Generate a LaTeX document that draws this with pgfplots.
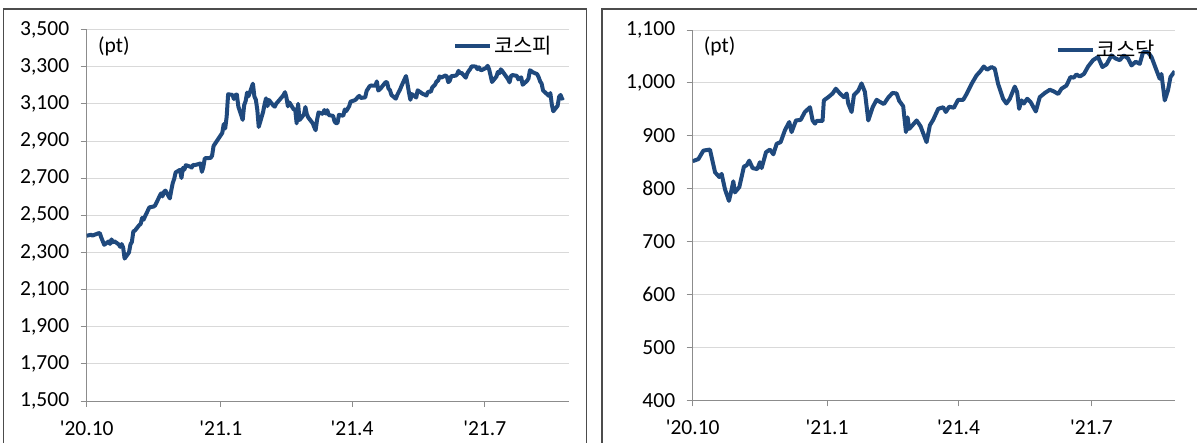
\documentclass[border=0pt]{standalone}
\usepackage{pgfplots}
\pgfplotsset{compat=1.18}
\usepackage{fontspec}
\setmainfont{Carlito}
\newfontfamily\cjk{Noto Sans CJK KR}
\definecolor{kline}{RGB}{31,73,125}
\definecolor{gridc}{RGB}{217,217,217}
\definecolor{axc}{RGB}{140,140,140}
\newcommand\lblfont{\fontsize{21.5}{26}\selectfont}
\pgfplotsset{
  panel/.style={
    scale only axis, enlargelimits=false,
    axis lines=left, axis line style={-, draw=axc, line width=0.9pt},
    tick align=outside, major tick length=6pt,
    tick style={draw=axc, line width=0.9pt},
    ymajorgrids, grid style={draw=gridc, line width=0.9pt},
    xtick={0,92,182,273},
    xticklabels={\textquotesingle20.10,\textquotesingle21.1,\textquotesingle21.4,\textquotesingle21.7},
    ticklabel style={font=\lblfont, text=black},
    xticklabel style={yshift=-10pt},
    yticklabel style={xshift=-8pt},
    /pgf/number format/assume math mode=true,
    /pgf/number format/1000 sep={,},
    legend image code/.code={\draw[##1] (0pt,0pt) -- (35pt,0pt);},
    legend style={draw=none, fill=none, inner sep=0pt, nodes={inner sep=2pt},
      font=\cjk\fontsize{21}{25}\selectfont, anchor=east},
  },
  kser/.style={draw=kline, line width=4pt, line join=round, mark=none},
}
\begin{document}
\begin{tikzpicture}[x=1pt,y=1pt]
\path[use as bounding box] (0,0) rectangle (1197,443);
\clip (0,0) rectangle (1197,443);
\draw[line width=1.3pt, draw=black!70] (3.3,-20) -- (3.3,434) -- (586.5,434) -- (586.5,-20);
\draw[line width=1.3pt, draw=black!70] (602,-20) -- (602,434) -- (1220,434);

\begin{axis}[panel, at={(86.7pt,42pt)}, anchor=south west,
  width=482.6pt, height=371.4pt, xmin=0, xmax=331, ymin=1500, ymax=3500,
  ytick={1500,1700,...,3500},
  legend style={at={(0.969,0.9566)}}]
\addplot[kser] coordinates {
(0,2390)(3,2395)(4,2391)(8,2403)(9,2404)(10,2380)(11,2361)(12,2341)(15,2359)(16,2346)
(17,2370)(18,2355)(19,2360)(22,2343)(23,2330)(24,2345)(25,2326)(26,2267)
(29,2300)(30,2343)(31,2357)(32,2414)(33,2417)(36,2447)(37,2453)(38,2486)(39,2476)(40,2494)
(43,2543)(44,2544)(45,2546)(46,2547)(47,2554)(50,2603)(51,2618)(52,2602)(53,2626)(54,2633)
(57,2591)(58,2634)(59,2673)(60,2696)(61,2731)(64,2745)(65,2701)(66,2755)(67,2746)(68,2770)
(71,2762)(72,2757)(73,2772)(74,2770)(75,2772)(78,2779)(79,2734)(80,2760)(81,2807)
(85,2809)(86,2821)(87,2873)(93,2944)(94,2991)(95,2968)(96,3032)(97,3152)
(100,3148)(101,3126)(102,3148)(103,3150)(104,3086)(107,3014)(108,3093)(109,3115)(110,3161)(111,3141)
(114,3209)(115,3140)(116,3123)(117,3069)(118,2976)(121,3057)(122,3097)(123,3130)(124,3088)(125,3121)
(128,3091)(129,3085)(130,3101)(135,3147)(136,3163)(137,3134)(138,3087)(139,3108)
(142,3070)(143,3070)(144,2995)(145,3100)(146,3013)(149,3043)(150,3083)(151,3044)(152,3026)
(155,2996)(156,2976)(157,2958)(158,3014)(159,3054)(162,3046)(163,3067)(164,3048)(165,3066)(166,3040)
(169,3035)(170,3005)(171,2996)(172,2996)(173,3041)(176,3036)(177,3070)(178,3061)
(180,3087)(181,3112)(184,3120)(185,3127)(186,3137)(187,3143)(188,3132)
(191,3135)(192,3170)(193,3182)(194,3195)(195,3199)(198,3198)(199,3221)(200,3172)(201,3178)(202,3187)
(205,3217)(206,3216)(207,3182)(208,3174)(209,3148)(212,3128)(213,3148)(215,3179)(216,3198)
(219,3250)(220,3209)(221,3162)(222,3122)(223,3153)(226,3134)(227,3173)(229,3162)(230,3156)
(233,3145)(234,3163)(235,3166)(236,3165)(237,3188)(239,3204)(240,3222)(241,3224)(242,3248)(243,3241)
(246,3253)(247,3248)(248,3217)(249,3224)(250,3249)(253,3252)(254,3258)(255,3278)(256,3264)(257,3268)
(260,3241)(261,3264)(262,3277)(263,3287)(264,3302)(267,3301)(268,3287)(269,3297)(270,3283)(271,3282)
(274,3294)(275,3305)(276,3286)(277,3253)(278,3218)(281,3247)(282,3272)(283,3265)(284,3286)(285,3277)
(288,3244)(289,3232)(290,3216)(291,3250)(292,3255)(295,3251)(296,3232)(297,3237)(298,3243)(299,3203)
(302,3224)(303,3237)(304,3281)(305,3276)(306,3270)(309,3260)(310,3243)(311,3221)(312,3209)(313,3172)
(317,3143)(318,3158)(319,3097)(320,3060)(323,3090)(324,3138)(325,3148)(326,3128)(327,3134)
};
\addlegendentry{코스피}
\node[anchor=west, inner sep=0pt, font=\lblfont] at (rel axis cs:0.0234,0.9545) {(pt)};
\end{axis}

\begin{axis}[panel, at={(692.7pt,42.7pt)}, anchor=south west,
  width=482pt, height=370.3pt, xmin=0, xmax=330, ymin=400, ymax=1100,
  ytick={400,500,...,1100},
  legend style={at={(0.963,0.947)}}]
\addplot[kser] coordinates {
(0,852)(3.9,856)(7.3,872)(11.8,874)(15.3,831)(18.2,822)(19.8,828)(22.1,799)(24.8,777)(26.7,799)
(27.8,814)(28.9,793)(31.9,803)(35.1,842)(36.9,844)(38.7,853)(41,839)(44.2,837)(46,850)(47.2,839)
(50.2,869)(52.9,874)(55.2,865)(57.5,885)(60.2,888)(63.2,911)(66.1,926)(67.7,907)(70.7,929)(73.9,930)
(76.8,945)(80.3,954)(82.1,929)(83.7,923)(84.8,928)(88.9,928)(89.8,967)(92.8,973)(95.8,980)(98,989)
(100.8,980)(103.5,973)(105.4,980)(106.5,961)(108.8,945)(110.4,977)(113.3,985)(115.6,999)(117.9,983)
(120.2,929)(123.2,954)(125.9,968)(128.2,964)(130.9,960)(133.8,972)(136.8,981)(139.6,980)(141.4,966)
(144.1,956)(146,907)(147.1,935)(148.2,913)(150.5,920)(153.3,929)(156,918)(160.1,888)(162.4,920)
(164.6,930)(168.1,951)(171.5,954)(173.3,945)(175.6,955)(178.8,953)(181.7,968)(185.2,968)(187.5,979)
(190.9,998)(194.3,1014)(196.6,1021)(199.3,1031)(201.6,1025)(204.6,1030)(206.8,1027)(209.1,998)
(212.5,970)(214.8,961)(217.1,970)(220.5,993)(222.1,983)(223.5,951)(225.1,967)(226.7,961)(229,970)
(231.3,964)(234.9,946)(237.6,973)(241.1,981)(244.5,987)(247.2,984)(250.2,979)(252.5,989)(255.9,995)
(258.6,1011)(260.9,1010)(262.7,1016)(265,1012)(267.9,1017)(270.7,1031)(274.1,1043)(277.5,1049)
(280.5,1030)(283.3,1035)(286.7,1052)(289.6,1046)(292.4,1043)(295.1,1052)(298.1,1046)(300.4,1033)
(303.3,1040)(306.1,1036)(308.3,1058)(311.7,1058)(314.1,1049)(317.5,1024)(319.7,1008)(320.9,1017)
(323.2,967)(325.4,986)(327.1,1011)(330,1022)
};
\addlegendentry{코스닥}
\node[anchor=west, inner sep=0pt, font=\lblfont] at (rel axis cs:0.0228,0.9545) {(pt)};
\end{axis}
\end{tikzpicture}
\end{document}
